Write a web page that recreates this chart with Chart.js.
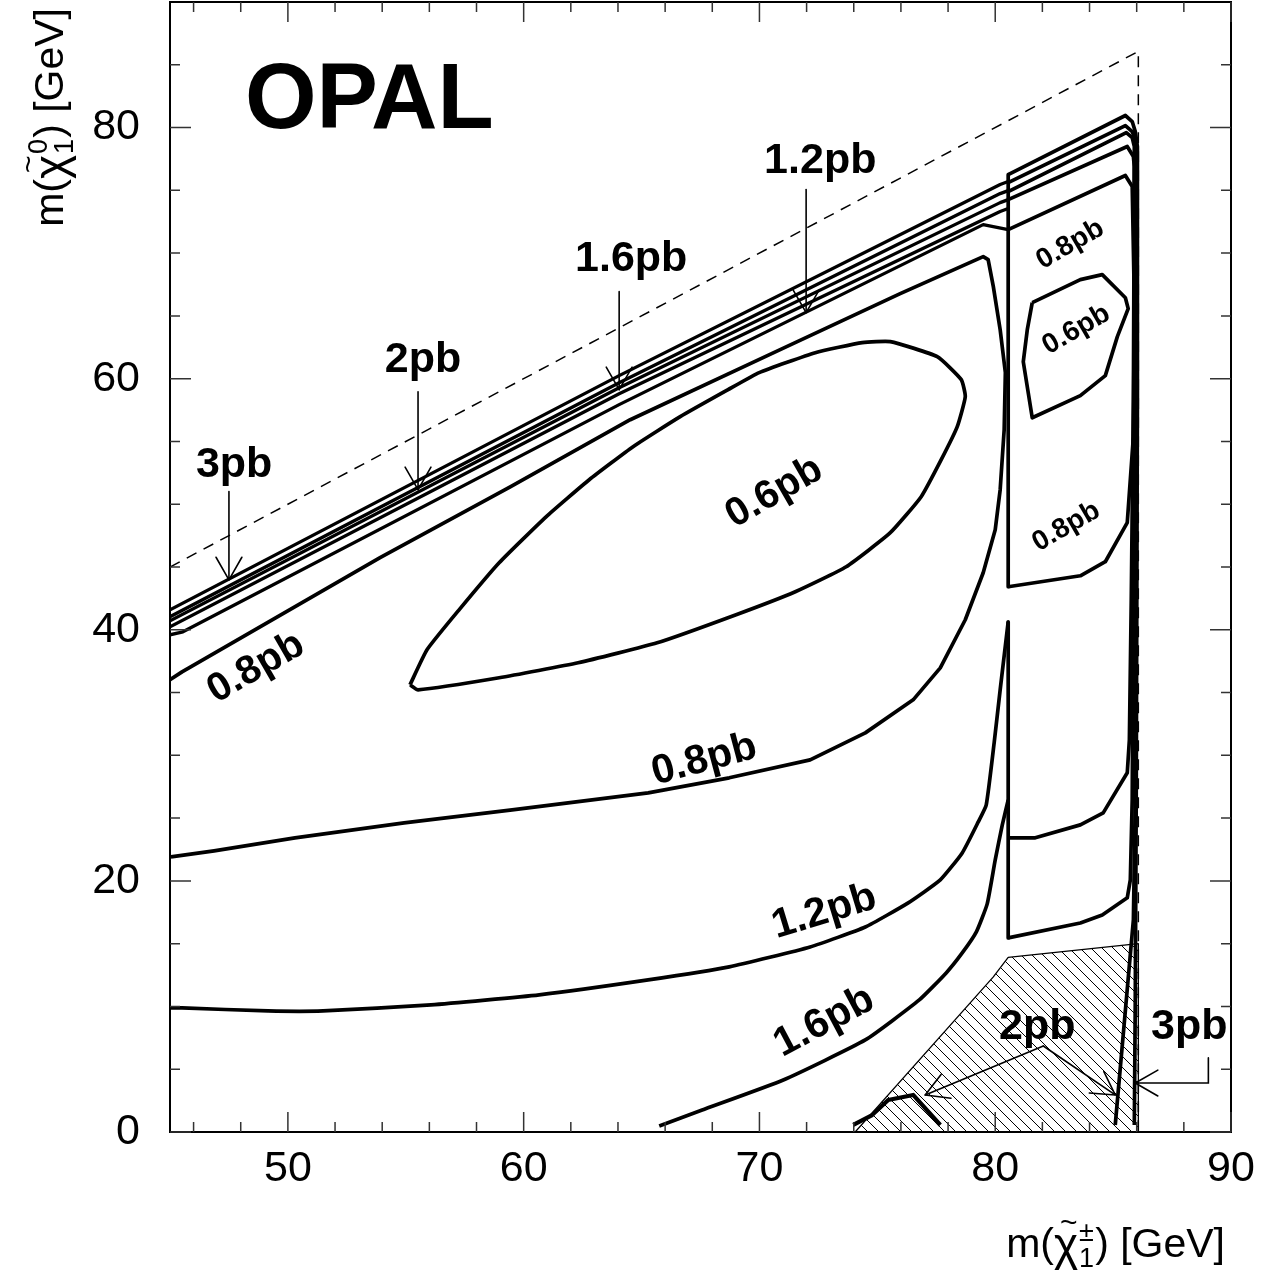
<!DOCTYPE html>
<html>
<head>
<meta charset="utf-8">
<script src="https://cdn.jsdelivr.net/npm/chart.js@4.4.0/dist/chart.umd.min.js"></script>
<style>
html,body{margin:0;padding:0;background:#fff}
canvas{display:block}
</style>
</head>
<body>
<canvas id="c" width="1267" height="1270"></canvas>
<script>
const FONT = '"Liberation Sans", Arial, Helvetica, sans-serif';

// axis ticks
const xTickLabels = [50, 60, 70, 80, 90];
const yTickLabels = [0, 20, 40, 60, 80];
const xMinorTicks = [46,48,52,54,56,58,62,64,66,68,72,74,76,78,82,84,86,88];
const yMinorTicks = [5,10,15,25,30,35,45,50,55,65,70,75,85];

// kinematic limit (dashed) and excluded hatched area
const kinematicLimit = [[45,45],[86.07,86.07],[86.07,0]];
const hatchedRegion = [[74.06,0],[79.92,12.35],[80.55,13.9],[86.07,15.0],[86.07,0]];

// band of contours just below the kinematic limit (m_chargino < ~80.5)
const bandLine1 = [[45.0,41.59],[64.05,60.24],[80.21,75.46],[80.55,75.70]];
const bandLine2 = [[45.0,41.04],[64.05,59.68],[80.21,74.74],[80.55,74.98]];
const bandLine3 = [[45.0,40.72],[64.05,59.28],[80.21,74.02],[80.55,74.26]];
const bandLine4 = [[45.0,40.24],[64.05,58.80],[80.21,73.31],[80.55,73.55]];
const bandLine5 = [[45.0,39.60],[45.55,39.84],[64.05,57.93],[79.49,72.27],[80.55,71.87]];

// 0.8 pb contour around the large region, 0.6 pb island
const contour08 = [[45.0,36.02],[45.51,36.65],[53.91,45.74],[59.43,51.39],[64.52,56.73],[70.88,62.31],
  [75.97,66.77],[79.49,69.72],[79.70,69.48],[79.92,67.33],[80.21,63.90],[80.43,60.48],[80.38,55.94],
  [80.21,51.16],[80.00,47.97],[79.49,44.54],[78.73,40.80],[77.67,36.97],[76.52,34.42],[74.49,31.79],
  [72.15,29.64],[68.72,28.21],[65.28,27.01],[59.51,25.66],[54.93,24.62],[50.30,23.43],[46.87,22.39],[45.04,21.91]];
const island06 = [[55.18,35.62],[55.52,35.22],[58.96,36.18],[62.31,37.37],[65.66,38.96],[69.01,41.20],
  [71.52,43.03],[73.68,45.02],[75.55,47.73],[76.86,50.60],[77.71,53.55],[78.39,56.18],[78.73,58.57],
  [78.56,59.92],[77.54,61.75],[75.55,62.95],[74.36,62.87],[72.37,62.07],[69.99,60.48],[68.67,59.12],
  [66.64,56.97],[64.64,54.58],[62.78,51.95],[60.95,49.00],[58.96,45.34],[57.26,41.59],[55.90,38.41],[55.18,35.62]];
const contour12 = [[45.04,9.88],[45.51,9.88],[49.16,9.64],[51.49,9.64],[56.07,10.12],[60.66,10.92],
  [65.28,12.11],[68.72,13.15],[72.15,14.74],[74.49,16.33],[76.31,18.25],[77.67,20.08],[78.60,22.23],
  [79.28,24.70],[79.62,26.06],[79.96,31.08],[80.21,35.22],[80.55,40.64]];
const contour16 = [[65.75,0.48],[67.57,1.75],[71.01,4.14],[74.49,7.33],[76.78,10.52],[77.92,12.67],
  [78.60,14.26],[79.20,15.94],[79.66,18.17],[80.00,21.67],[80.30,24.46],[80.55,26.45]];
const contour2Small = [[73.98,0.56],[74.78,1.35],[75.46,2.55],[76.52,2.95],[77.67,0.56]];

// threshold walls at m_chargino ~ 80.5
const wallUpper = [[80.55,76.25],[80.55,43.43]];
const wallLower = [[80.55,40.64],[80.55,15.46]];

// contours in the strip 80.5 < m_chargino < 86
const strip08 = [[80.55,71.87],[85.52,76.18],[85.81,75.30],[85.90,66.29],[85.86,55.38],[85.60,48.53],
  [84.67,45.42],[83.61,44.30],[80.55,43.43]];
const strip06 = [[81.57,66.06],[83.61,67.89],[84.54,68.29],[85.52,66.45],[85.64,65.58],[85.18,63.35],
  [84.67,60.24],[83.61,58.65],[81.57,56.89],[81.19,61.35],[81.36,63.90],[81.57,66.06]];
const strip12 = [[80.55,74.26],[85.60,78.49],[85.86,77.69],[85.90,76.89],[85.86,58.33],[85.77,42.39],
  [85.69,31.24],[85.60,28.61],[84.58,25.42],[83.61,24.46],[81.70,23.43],[80.55,23.43]];
const strip16 = [[80.55,74.90],[85.56,79.60],[85.81,79.20],[85.90,78.49],[85.90,58.33],[85.81,26.45],
  [85.73,20.08],[85.60,18.65],[84.54,17.29],[83.61,16.65],[80.55,15.46]];
const strip2 = [[80.55,75.62],[85.52,80.16],[85.81,79.68],[85.94,79.04],[85.98,78.25],[85.98,50.36],
  [85.94,26.45],[85.86,16.89],[85.09,0.56]];
const strip3 = [[80.55,76.25],[85.52,80.96],[85.81,80.48],[85.94,79.68],[86.03,78.49],[86.03,58.33],
  [85.98,26.45],[85.94,10.52],[85.90,0.56]];

// label arrows, last point is the tip
const arrowPaths = [
  [[47.50,51.0],[47.50,43.98]],
  [[55.52,58.96],[55.52,51.16]],
  [[64.05,66.93],[64.05,59.12]],
  [[71.98,75.06],[71.98,65.26]],
  [[82.04,6.85],[77.03,2.95]],
  [[82.04,6.85],[85.09,2.95]],
  [[89.04,5.90],[89.04,3.90],[85.94,3.90]]
];

const notes = [
  {t:'OPAL', x:48.18, y:80.0, size:92, align:'left', base:'alphabetic'},
  {t:'3pb', x:47.72, y:53.15, size:43},
  {t:'2pb', x:55.73, y:61.51, size:43},
  {t:'1.6pb', x:64.56, y:69.48, size:43},
  {t:'1.2pb', x:72.58, y:77.29, size:43},
  {t:'2pb', x:81.78, y:8.37, size:43},
  {t:'3pb', x:88.23, y:8.37, size:43},
  {t:'0.8pb', x:48.65, y:36.97, size:40, rot:-30},
  {t:'0.6pb', x:70.63, y:50.92, size:40, rot:-30},
  {t:'0.8pb', x:67.66, y:29.64, size:41, rot:-15},
  {t:'1.2pb', x:72.75, y:17.53, size:41, rot:-17},
  {t:'1.6pb', x:72.75, y:8.76, size:41, rot:-28},
  {t:'0.8pb', x:83.18, y:70.68, size:28, rot:-30},
  {t:'0.6pb', x:83.44, y:63.90, size:28, rot:-30},
  {t:'0.8pb', x:83.01, y:48.21, size:28, rot:-30}
];

const pts = a => a.map(p => ({x:p[0], y:p[1]}));

function hatchPattern(){
  const c = document.createElement('canvas');
  c.width = 11; c.height = 11;
  const g = c.getContext('2d');
  g.strokeStyle = '#000'; g.lineWidth = 1;
  g.beginPath();
  g.moveTo(-1,-1); g.lineTo(12,12);
  g.moveTo(-1,10); g.lineTo(1,12);
  g.moveTo(10,-1); g.lineTo(12,1);
  g.stroke();
  return g.createPattern(c, 'repeat');
}

function line(data, w, extra){
  return Object.assign({data:pts(data), borderColor:'#000', borderWidth:w, pointRadius:0,
    fill:false, tension:0, order:1, borderJoinStyle:'round'}, extra || {});
}

function drawMass(ctx, sup, draw){
  let x = 0;
  const big = '41px ' + FONT;
  ctx.font = big;
  if(draw) ctx.fillText('m(', x, 0);
  x += ctx.measureText('m(').width;
  ctx.font = '46px ' + FONT;
  const cw = ctx.measureText('χ').width;
  if(draw){
    ctx.fillText('χ', x, 3);
    ctx.font = '30px ' + FONT;
    ctx.fillText('~', x + cw/2 - 6, -25);
  }
  x += cw + 1;
  ctx.font = '27px ' + FONT;
  const sw = Math.max(ctx.measureText(sup).width, ctx.measureText('1').width);
  if(draw){ ctx.fillText(sup, x, -16); ctx.fillText('1', x, 10); }
  x += sw + 1;
  ctx.font = big;
  if(draw) ctx.fillText(') [GeV]', x, 0);
  x += ctx.measureText(') [GeV]').width;
  return x;
}

const decorations = {
  id:'decorations',
  afterDatasetsDraw(chart){
    const {ctx, chartArea:a, scales:{x, y}} = chart;
    ctx.save();
    ctx.strokeStyle = '#000'; ctx.lineWidth = 1.6; ctx.lineCap = 'round';
    arrowPaths.forEach(path => {
      const p = path.map(q => [x.getPixelForValue(q[0]), y.getPixelForValue(q[1])]);
      ctx.beginPath();
      ctx.moveTo(p[0][0], p[0][1]);
      for(let i=1;i<p.length;i++) ctx.lineTo(p[i][0], p[i][1]);
      ctx.stroke();
      const [tx, ty] = p[p.length-1], [sx, sy] = p[p.length-2];
      const ang = Math.atan2(sy-ty, sx-tx);
      ctx.beginPath();
      [-1, 1].forEach(s => {
        ctx.moveTo(tx, ty);
        ctx.lineTo(tx + 26*Math.cos(ang + s*0.52), ty + 26*Math.sin(ang + s*0.52));
      });
      ctx.stroke();
    });

    ctx.fillStyle = '#000';
    notes.forEach(n => {
      ctx.save();
      ctx.translate(x.getPixelForValue(n.x), y.getPixelForValue(n.y));
      if(n.rot) ctx.rotate(n.rot*Math.PI/180);
      ctx.font = 'bold ' + n.size + 'px ' + FONT;
      ctx.textAlign = n.align || 'center';
      ctx.textBaseline = n.base || 'middle';
      ctx.fillText(n.t, 0, 0);
      ctx.restore();
    });

    // frame and inward ticks on all four sides
    ctx.strokeStyle = '#000'; ctx.lineWidth = 2; ctx.lineCap = 'butt';
    ctx.strokeRect(a.left, a.top, a.right - a.left, a.bottom - a.top);
    ctx.lineWidth = 1.5; ctx.strokeStyle = '#333';
    ctx.beginPath();
    const xt = (v, len) => {
      const px = x.getPixelForValue(v);
      ctx.moveTo(px, a.bottom); ctx.lineTo(px, a.bottom - len);
      ctx.moveTo(px, a.top); ctx.lineTo(px, a.top + len);
    };
    const yt = (v, len) => {
      const py = y.getPixelForValue(v);
      ctx.moveTo(a.left, py); ctx.lineTo(a.left + len, py);
      ctx.moveTo(a.right, py); ctx.lineTo(a.right - len, py);
    };
    xTickLabels.forEach(v => xt(v, 20));
    xMinorTicks.forEach(v => xt(v, 10));
    yTickLabels.forEach(v => yt(v, 21));
    yMinorTicks.forEach(v => yt(v, 10));
    ctx.stroke();
    ctx.restore();
  },
  afterDraw(chart){
    const ctx = chart.ctx;
    ctx.save();
    ctx.fillStyle = '#000';
    ctx.textAlign = 'left'; ctx.textBaseline = 'alphabetic';
    // x title, right aligned
    const wx = drawMass(ctx, '±', false);
    ctx.save();
    ctx.translate(1225 - wx, 1257);
    drawMass(ctx, '±', true);
    ctx.restore();
    // y title, rotated, ending near the top
    const wy = drawMass(ctx, '0', false);
    ctx.save();
    ctx.translate(63, 8 + wy);
    ctx.rotate(-Math.PI/2);
    drawMass(ctx, '0', true);
    ctx.restore();
    ctx.restore();
  }
};

const tickFont = {family: FONT, size: 43};
const noPad = s => { s.paddingTop = 0; s.paddingBottom = 0; s.paddingLeft = 0; s.paddingRight = 0; };
const W = 3.7;

new Chart(document.getElementById('c'), {
  type: 'line',
  data: {
    datasets: [
      line(hatchedRegion, 1.3, {fill:'origin', backgroundColor:hatchPattern(), order:10}),
      line(kinematicLimit, 1.5, {borderDash:[11,8], order:5}),
      line(bandLine1, 3.3), line(bandLine2, 3.3), line(bandLine3, 3.3),
      line(bandLine4, 3.3), line(bandLine5, 3.3),
      line(contour08, W), line(island06, W, {tension:0.15}),
      line(contour12, W, {tension:0.15}), line(contour16, W, {tension:0.15}), line(contour2Small, 4.2),
      line(wallUpper, W), line(wallLower, W),
      line(strip08, W), line(strip06, W), line(strip12, W),
      line(strip16, W), line(strip2, W), line(strip3, W)
    ]
  },
  options: {
    responsive: false,
    animation: false,
    events: [],
    layout: {autoPadding: false, padding: {top: 2, right: 36, left: 0, bottom: 0}},
    plugins: {legend: {display: false}, tooltip: {enabled: false}},
    scales: {
      x: {
        type: 'linear', min: 45, max: 90,
        grid: {display: false, drawTicks: false},
        border: {display: false},
        ticks: {font: tickFont, color: '#000', padding: 11, maxRotation: 0, autoSkip: false},
        afterBuildTicks: s => { s.ticks = xTickLabels.map(v => ({value: v})); },
        afterFit: s => { s.height = 138; noPad(s); }
      },
      y: {
        type: 'linear', min: 0, max: 90,
        grid: {display: false, drawTicks: false},
        border: {display: false},
        ticks: {font: tickFont, color: '#000', padding: 30, autoSkip: false},
        afterBuildTicks: s => { s.ticks = yTickLabels.map(v => ({value: v})); },
        afterFit: s => { s.width = 170; noPad(s); }
      }
    }
  },
  plugins: [decorations]
});
</script>
</body>
</html>
